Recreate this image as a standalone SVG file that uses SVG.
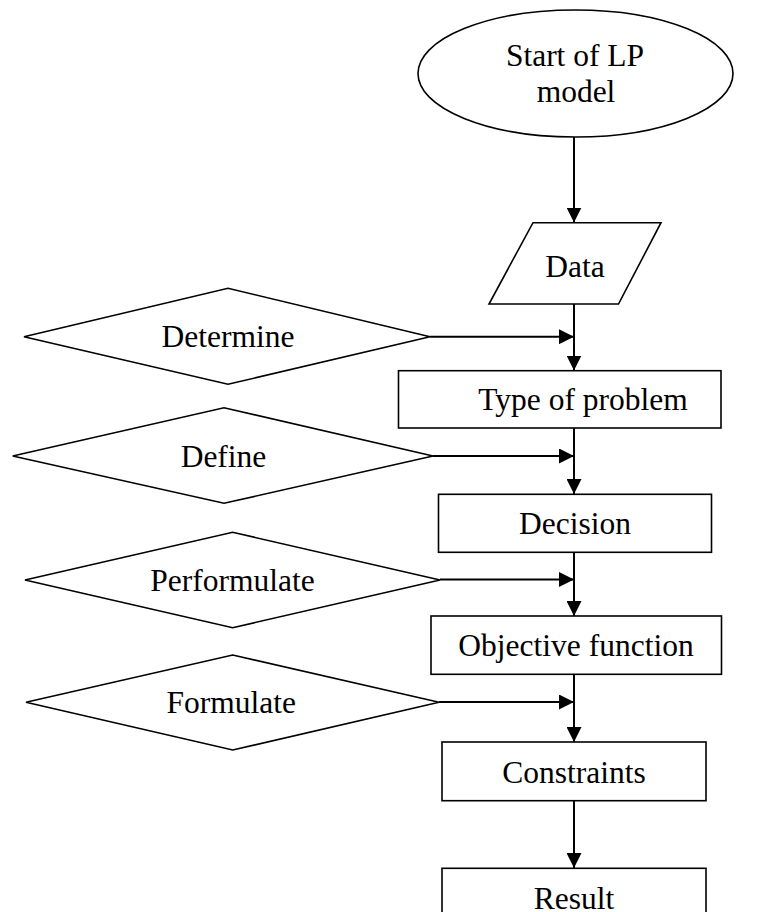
<svg xmlns="http://www.w3.org/2000/svg" width="759" height="912" viewBox="0 0 759 912">
<style>
.shape{fill:#fff;stroke:#000;stroke-width:1.6}
.conn{fill:none;stroke:#000;stroke-width:2}
text{font-family:"Liberation Serif","Times New Roman",serif;font-size:31.5px;fill:#000;text-anchor:middle}
</style>
<defs>
<marker id="ah" markerUnits="userSpaceOnUse" markerWidth="15" markerHeight="15" refX="15" refY="7.5" orient="auto" viewBox="0 0 15 15">
<path d="M0,0 L15,7.5 L0,15 Z" fill="#000"/>
</marker>
</defs>
<rect width="759" height="912" fill="#fff"/>
<g id="connectors">
<line class="conn" x1="574" y1="137" x2="574" y2="222.5" marker-end="url(#ah)"/>
<line class="conn" x1="574" y1="304" x2="574" y2="370.5" marker-end="url(#ah)"/>
<line class="conn" x1="574" y1="428" x2="574" y2="494" marker-end="url(#ah)"/>
<line class="conn" x1="574" y1="552" x2="574" y2="616" marker-end="url(#ah)"/>
<line class="conn" x1="574" y1="674" x2="574" y2="742" marker-end="url(#ah)"/>
<line class="conn" x1="574" y1="801" x2="574" y2="868" marker-end="url(#ah)"/>
<line class="conn" x1="430" y1="336.7" x2="574" y2="336.7" marker-end="url(#ah)"/>
<line class="conn" x1="433" y1="456" x2="574" y2="456" marker-end="url(#ah)"/>
<line class="conn" x1="440" y1="579.5" x2="574" y2="579.5" marker-end="url(#ah)"/>
<line class="conn" x1="439" y1="702" x2="574" y2="702" marker-end="url(#ah)"/>
</g>
<g id="start">
<ellipse class="shape" cx="575.5" cy="73.5" rx="157.5" ry="63.5"/>
<text x="575" y="65.7">Start of LP</text>
<text x="576" y="101.7">model</text>
</g>
<g id="data">
<polygon class="shape" points="533,222.7 661,222.7 618.5,304 489,304"/>
<text x="575" y="277">Data</text>
</g>
<g id="determine">
<polygon class="shape" points="24,336.7 228,288.3 430,336.7 228,384.3"/>
<text x="228" y="346.7">Determine</text>
</g>
<g id="type-of-problem">
<rect class="shape" x="398.5" y="370.7" width="322.5" height="57.3"/>
<text x="583" y="410">Type of problem</text>
</g>
<g id="define">
<polygon class="shape" points="12.7,456 224,407.7 433,456 224,503.3"/>
<text x="223.5" y="466.7">Define</text>
</g>
<g id="decision">
<rect class="shape" x="438.5" y="494.3" width="273" height="58"/>
<text x="575" y="534">Decision</text>
</g>
<g id="performulate">
<polygon class="shape" points="25,580 232.7,532.3 440,580 232.7,627.7"/>
<text x="232.5" y="590.7">Performulate</text>
</g>
<g id="objective-function">
<rect class="shape" x="431" y="616" width="290.5" height="58.3"/>
<text x="576" y="656">Objective function</text>
</g>
<g id="formulate">
<polygon class="shape" points="26,702.3 232.7,655 439,702.3 232.7,750"/>
<text x="231.3" y="713">Formulate</text>
</g>
<g id="constraints">
<rect class="shape" x="442" y="742" width="264" height="58.7"/>
<text x="574" y="783">Constraints</text>
</g>
<g id="result">
<rect class="shape" x="442" y="868.3" width="264" height="60"/>
<text x="574" y="908.5">Result</text>
</g>
</svg>
